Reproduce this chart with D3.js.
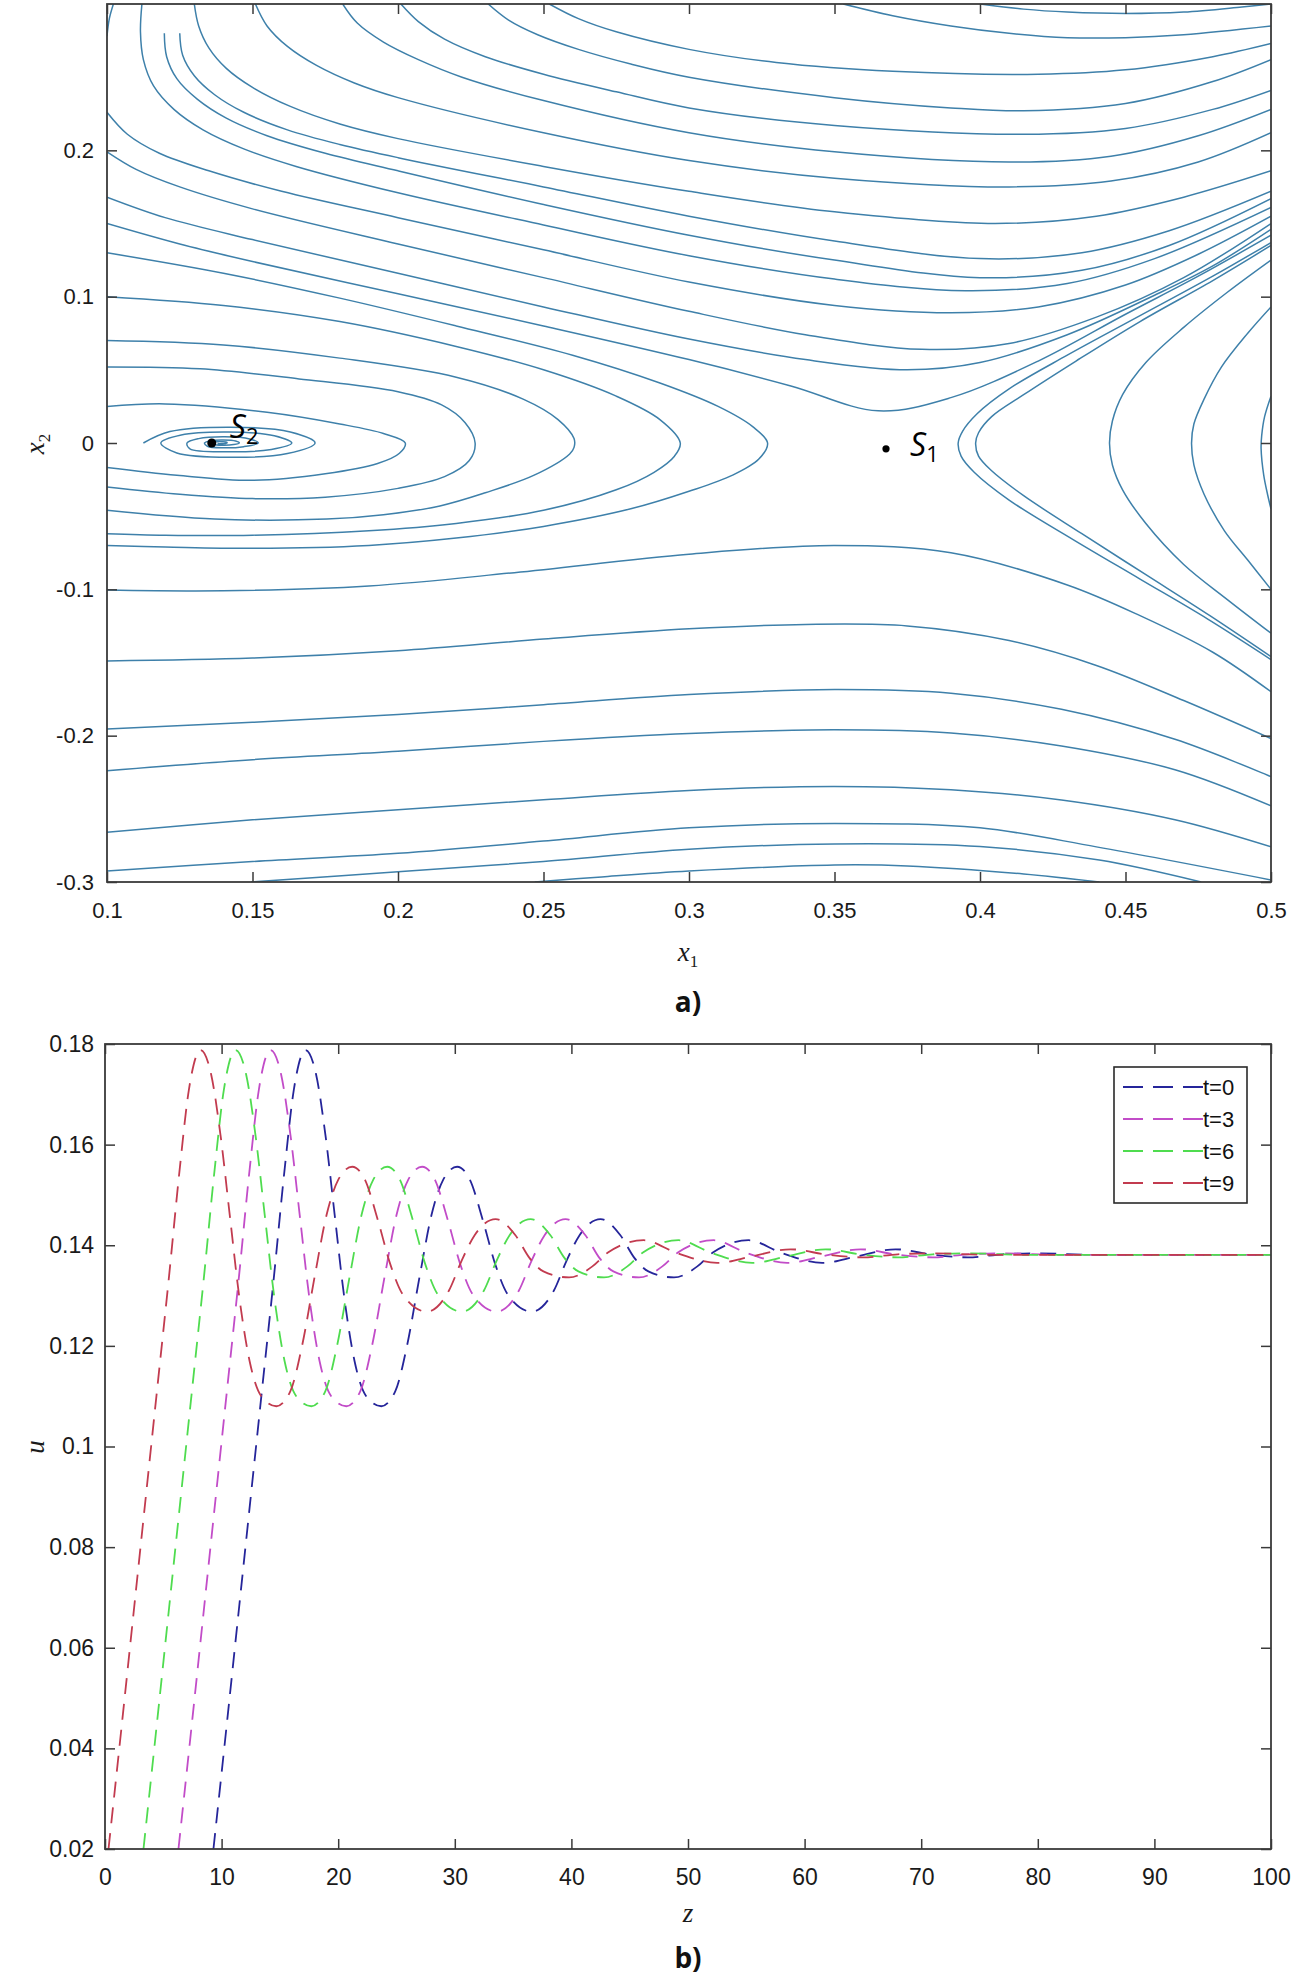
<!DOCTYPE html>
<html>
<head>
<meta charset="utf-8">
<script src="https://cdn.jsdelivr.net/npm/d3@7/dist/d3.min.js"></script>
<style>
  body { margin: 0; background: #fff; }
  svg { display: block; }
  .tick text { font-family: "Liberation Sans", Arial, sans-serif; fill: #1a1a1a; }
</style>
</head>
<body>
<div id="chart"></div>
<script>
// ---- panel a) phase portrait ----
const x1Ticks = [0.1, 0.15, 0.2, 0.25, 0.3, 0.35, 0.4, 0.45, 0.5];
const x2Ticks = [-0.3, -0.2, -0.1, 0, 0.1, 0.2];

// trajectories passing above the saddle (x1, x2)
const upperStreams = [
  [[0.100, 0.278], [0.1008, 0.290], [0.1022, 0.300]],
  [[0.400, 0.300], [0.415, 0.2965], [0.430, 0.2945], [0.450, 0.2935], [0.470, 0.2945], [0.490, 0.298], [0.500, 0.300]],
  [[0.353, 0.300], [0.370, 0.292], [0.390, 0.285], [0.410, 0.280], [0.430, 0.277], [0.450, 0.277], [0.470, 0.279], [0.500, 0.285]],
  [[0.252, 0.300], [0.262, 0.290], [0.275, 0.281], [0.300, 0.269], [0.330, 0.260], [0.370, 0.254], [0.420, 0.252], [0.450, 0.255], [0.480, 0.264], [0.500, 0.273]],
  [[0.231, 0.300], [0.238, 0.289], [0.248, 0.279], [0.262, 0.269], [0.280, 0.259], [0.300, 0.250], [0.350, 0.236], [0.390, 0.229], [0.415, 0.227], [0.450, 0.232], [0.480, 0.247], [0.500, 0.262]],
  [[0.201, 0.300], [0.207, 0.288], [0.216, 0.276], [0.230, 0.264], [0.250, 0.252], [0.275, 0.240], [0.300, 0.229], [0.350, 0.217], [0.415, 0.211], [0.450, 0.215], [0.480, 0.228], [0.500, 0.241]],
  [[0.181, 0.300], [0.186, 0.287], [0.195, 0.274], [0.207, 0.262], [0.222, 0.250], [0.250, 0.234], [0.300, 0.212], [0.350, 0.199], [0.410, 0.192], [0.445, 0.196], [0.475, 0.210], [0.500, 0.228]],
  [[0.151, 0.300], [0.155, 0.285], [0.162, 0.271], [0.172, 0.258], [0.185, 0.246], [0.200, 0.236], [0.250, 0.212], [0.300, 0.193], [0.350, 0.181], [0.410, 0.175], [0.445, 0.179], [0.475, 0.192], [0.500, 0.212]],
  [[0.130, 0.300], [0.1315, 0.285], [0.135, 0.270], [0.141, 0.256], [0.150, 0.243], [0.163, 0.230], [0.180, 0.218], [0.200, 0.208], [0.250, 0.189], [0.300, 0.172], [0.350, 0.158], [0.405, 0.150], [0.440, 0.155], [0.470, 0.168], [0.500, 0.186]],
  [[0.125, 0.280], [0.126, 0.265], [0.130, 0.251], [0.137, 0.238], [0.147, 0.226], [0.162, 0.214], [0.180, 0.204], [0.200, 0.195], [0.250, 0.175], [0.300, 0.155], [0.350, 0.138], [0.400, 0.126], [0.435, 0.130], [0.465, 0.145], [0.500, 0.172]],
  [[0.1197, 0.280], [0.1205, 0.264], [0.124, 0.249], [0.131, 0.235], [0.141, 0.222], [0.155, 0.210], [0.175, 0.198], [0.200, 0.186], [0.250, 0.163], [0.300, 0.142], [0.350, 0.125], [0.400, 0.113], [0.435, 0.118], [0.465, 0.135], [0.500, 0.167]],
  [[0.112, 0.300], [0.1115, 0.281], [0.1125, 0.262], [0.116, 0.244], [0.123, 0.228], [0.133, 0.214], [0.147, 0.201], [0.165, 0.189], [0.200, 0.171], [0.250, 0.149], [0.300, 0.128], [0.350, 0.112], [0.395, 0.104], [0.430, 0.109], [0.460, 0.126], [0.500, 0.161]],
  [[0.100, 0.226], [0.107, 0.211], [0.118, 0.198], [0.135, 0.186], [0.160, 0.172], [0.200, 0.154], [0.250, 0.132], [0.300, 0.110], [0.350, 0.094], [0.390, 0.089], [0.420, 0.093], [0.450, 0.108], [0.475, 0.129], [0.500, 0.155]],
  [[0.100, 0.199], [0.110, 0.187], [0.125, 0.175], [0.150, 0.160], [0.200, 0.136], [0.250, 0.113], [0.300, 0.090], [0.340, 0.074], [0.380, 0.064], [0.410, 0.068], [0.440, 0.086], [0.470, 0.113], [0.500, 0.150]],
  [[0.100, 0.168], [0.120, 0.154], [0.150, 0.139], [0.200, 0.116], [0.250, 0.093], [0.300, 0.071], [0.340, 0.057], [0.375, 0.050], [0.400, 0.055], [0.430, 0.074], [0.460, 0.101], [0.480, 0.121], [0.500, 0.146]],
  [[0.100, 0.150], [0.125, 0.136], [0.150, 0.124], [0.200, 0.102], [0.250, 0.080], [0.300, 0.057], [0.335, 0.039], [0.365, 0.022], [0.390, 0.031], [0.420, 0.056], [0.450, 0.088], [0.475, 0.114], [0.500, 0.142]]
];

// C-shaped trajectories around S2 (enter left, turn, leave left)
const loopStreams = [
  [[0.100, 0.025], [0.120, 0.0267], [0.155, 0.021], [0.180, 0.013], [0.195, 0.0065], [0.2025, 0.000], [0.2005, -0.007], [0.193, -0.014], [0.175, -0.021], [0.150, -0.0255], [0.124, -0.022], [0.100, -0.0167]],
  [[0.100, 0.052], [0.132, 0.0507], [0.166, 0.0438], [0.200, 0.035], [0.215, 0.026], [0.223, 0.014], [0.2265, 0.000], [0.2245, -0.012], [0.216, -0.023], [0.200, -0.031], [0.175, -0.037], [0.150, -0.038], [0.125, -0.035], [0.100, -0.030]],
  [[0.100, 0.070], [0.140, 0.067], [0.180, 0.058], [0.220, 0.045], [0.243, 0.030], [0.255, 0.016], [0.2605, 0.003], [0.2605, -0.003], [0.259, -0.0075], [0.2468, -0.022], [0.230, -0.034], [0.2144, -0.043], [0.195, -0.049], [0.1755, -0.052], [0.137, -0.052], [0.100, -0.046]],
  [[0.100, 0.100], [0.140, 0.094], [0.180, 0.083], [0.220, 0.066], [0.250, 0.050], [0.275, 0.032], [0.290, 0.016], [0.297, 0.000], [0.295, -0.009], [0.288, -0.020], [0.275, -0.032], [0.250, -0.046], [0.220, -0.055], [0.190, -0.060], [0.150, -0.063], [0.120, -0.063], [0.100, -0.062]],
  [[0.100, 0.130], [0.140, 0.116], [0.180, 0.099], [0.220, 0.080], [0.260, 0.060], [0.290, 0.041], [0.310, 0.025], [0.322, 0.011], [0.327, 0.000], [0.324, -0.011], [0.315, -0.022], [0.300, -0.033], [0.280, -0.045], [0.250, -0.057], [0.220, -0.065], [0.190, -0.070], [0.150, -0.072], [0.120, -0.071], [0.100, -0.070]]
];

// spiral into the focus S2
const spiralStream = [
  [0.1125, 0.000], [0.1216, 0.0078], [0.1425, 0.0108], [0.163, 0.0075], [0.1715, 0.000], [0.162, -0.0072], [0.142, -0.0098], [0.124, -0.0068],
  [0.1185, 0.000], [0.1255, 0.0055], [0.1418, 0.0075], [0.1575, 0.0050], [0.1635, 0.000], [0.1565, -0.0044], [0.1415, -0.0060], [0.1285, -0.0040],
  [0.1275, 0.000], [0.1315, 0.0030], [0.1405, 0.0042], [0.149, 0.0028], [0.152, 0.000], [0.147, -0.0025], [0.1400, -0.0033], [0.1345, -0.0022],
  [0.1335, 0.000], [0.1355, 0.0016], [0.1400, 0.0021], [0.1442, 0.0014], [0.1455, 0.000], [0.1435, -0.0011], [0.1398, -0.0015], [0.1368, -0.0010],
  [0.1362, 0.000], [0.1375, 0.0008], [0.1395, 0.0009], [0.1412, 0.0005], [0.1412, 0.000], [0.1395, -0.0005], [0.138, -0.0003]
];

// trajectories to the right of the saddle
const rightStreams = [
  [[0.500, 0.137], [0.480, 0.114], [0.455, 0.087], [0.430, 0.060], [0.410, 0.037], [0.399, 0.020], [0.394, 0.008], [0.3925, 0.000], [0.3935, -0.009], [0.398, -0.020], [0.410, -0.039], [0.432, -0.066], [0.455, -0.093], [0.478, -0.120], [0.500, -0.148]],
  [[0.500, 0.135], [0.480, 0.111], [0.455, 0.083], [0.433, 0.056], [0.415, 0.033], [0.404, 0.018], [0.3995, 0.007], [0.3985, 0.000], [0.3995, -0.009], [0.404, -0.019], [0.415, -0.036], [0.435, -0.062], [0.457, -0.090], [0.479, -0.118], [0.500, -0.146]],
  [[0.500, 0.125], [0.485, 0.103], [0.470, 0.079], [0.457, 0.055], [0.449, 0.033], [0.4455, 0.015], [0.4445, 0.000], [0.4455, -0.015], [0.449, -0.032], [0.457, -0.055], [0.470, -0.083], [0.485, -0.107], [0.500, -0.130]],
  [[0.500, 0.093], [0.492, 0.075], [0.483, 0.052], [0.477, 0.030], [0.4735, 0.013], [0.4727, 0.000], [0.4735, -0.015], [0.477, -0.035], [0.484, -0.060], [0.492, -0.080], [0.500, -0.100]],
  [[0.500, 0.032], [0.4978, 0.018], [0.4968, 0.005], [0.4966, -0.004], [0.4975, -0.022], [0.4988, -0.035], [0.500, -0.045]]
];

// trajectories passing below the saddle
const lowerStreams = [
  [[0.100, -0.1005], [0.140, -0.101], [0.190, -0.0977], [0.240, -0.0886], [0.300, -0.076], [0.350, -0.070], [0.390, -0.075], [0.430, -0.097], [0.455, -0.118], [0.480, -0.143], [0.500, -0.170]],
  [[0.100, -0.149], [0.150, -0.147], [0.200, -0.142], [0.250, -0.134], [0.300, -0.127], [0.340, -0.124], [0.375, -0.125], [0.410, -0.135], [0.440, -0.152], [0.470, -0.176], [0.500, -0.202]],
  [[0.100, -0.1954], [0.150, -0.1909], [0.200, -0.1856], [0.250, -0.1788], [0.300, -0.1719], [0.350, -0.1685], [0.390, -0.171], [0.428, -0.182], [0.467, -0.2025], [0.500, -0.228]],
  [[0.100, -0.224], [0.150, -0.2164], [0.200, -0.2107], [0.250, -0.2039], [0.300, -0.1986], [0.350, -0.196], [0.390, -0.1982], [0.428, -0.207], [0.467, -0.2233], [0.500, -0.248]],
  [[0.100, -0.266], [0.150, -0.2575], [0.200, -0.2507], [0.250, -0.2438], [0.300, -0.2374], [0.350, -0.2347], [0.390, -0.237], [0.428, -0.244], [0.467, -0.2575], [0.500, -0.276]],
  [[0.100, -0.2925], [0.150, -0.286], [0.200, -0.2804], [0.250, -0.272], [0.300, -0.263], [0.350, -0.260], [0.400, -0.263], [0.440, -0.276], [0.500, -0.2986]],
  [[0.1495, -0.300], [0.200, -0.293], [0.250, -0.286], [0.300, -0.2776], [0.350, -0.274], [0.400, -0.2758], [0.441, -0.285], [0.476, -0.300]],
  [[0.247, -0.300], [0.270, -0.2965], [0.300, -0.2925], [0.350, -0.2884], [0.375, -0.289], [0.415, -0.2945], [0.441, -0.300]]
];

const equilibria = [
  { name: 'S', sub: '1', x1: 0.3677, x2: -0.004, r: 3.6, dx: 24, dy: 7 },
  { name: 'S', sub: '2', x1: 0.136, x2: 0.000, r: 4.5, dx: 18, dy: -5 }
];

// ---- panel b) travelling waves ----
const zTicks = [0, 10, 20, 30, 40, 50, 60, 70, 80, 90, 100];
const uTicks = [0.02, 0.04, 0.06, 0.08, 0.1, 0.12, 0.14, 0.16, 0.18];
const seriesNames = ['t=0', 't=3', 't=6', 't=9'];
const seriesColors = ['#25259a', '#c24cc8', '#4fdc4f', '#c23b4f'];

const waveT0 = [[9.3, 0.020], [10.5, 0.046], [11.5, 0.068], [12.5, 0.090], [13.5, 0.112], [14.5, 0.134], [15.4, 0.155], [16.2, 0.171], [17.2, 0.1788], [18.1, 0.174], [18.9, 0.162], [19.7, 0.146], [20.5, 0.130], [21.4, 0.117], [22.4, 0.110], [23.7, 0.108], [24.9, 0.111], [25.9, 0.120], [27.0, 0.134], [28.0, 0.146], [29.0, 0.153], [30.2, 0.1556], [31.3, 0.153], [32.4, 0.145], [33.5, 0.136], [34.6, 0.130], [36.6, 0.1268], [38.5, 0.131], [39.6, 0.137], [40.7, 0.142], [42.5, 0.1452], [44.2, 0.142], [45.4, 0.1375], [46.6, 0.1348], [48.8, 0.1336], [50.8, 0.1358], [52.1, 0.1385], [55.2, 0.1410], [58.0, 0.1385], [61.5, 0.1365], [64.5, 0.1378], [67.8, 0.1392], [71.0, 0.1381], [74.0, 0.1376], [77.0, 0.1382], [80.0, 0.1384], [85.0, 0.1381], [100, 0.1381]];
const waveT3 = [[6.3, 0.020], [7.5, 0.046], [8.5, 0.068], [9.5, 0.090], [10.5, 0.112], [11.5, 0.134], [12.4, 0.155], [13.2, 0.171], [14.2, 0.1788], [15.1, 0.174], [15.9, 0.162], [16.7, 0.146], [17.5, 0.130], [18.4, 0.117], [19.4, 0.110], [20.7, 0.108], [21.9, 0.111], [22.9, 0.120], [24.0, 0.134], [25.0, 0.146], [26.0, 0.153], [27.2, 0.1556], [28.3, 0.153], [29.4, 0.145], [30.5, 0.136], [31.6, 0.130], [33.6, 0.1268], [35.5, 0.131], [36.6, 0.137], [37.7, 0.142], [39.5, 0.1452], [41.2, 0.142], [42.4, 0.1375], [43.6, 0.1348], [45.8, 0.1336], [47.8, 0.1358], [49.1, 0.1385], [52.2, 0.1410], [55.0, 0.1385], [58.5, 0.1365], [61.5, 0.1378], [64.8, 0.1392], [68.0, 0.1381], [71.0, 0.1376], [74.0, 0.1382], [77.0, 0.1384], [82.0, 0.1381], [100, 0.1381]];
const waveT6 = [[3.3, 0.020], [4.5, 0.046], [5.5, 0.068], [6.5, 0.090], [7.5, 0.112], [8.5, 0.134], [9.4, 0.155], [10.2, 0.171], [11.2, 0.1788], [12.1, 0.174], [12.9, 0.162], [13.7, 0.146], [14.5, 0.130], [15.4, 0.117], [16.4, 0.110], [17.7, 0.108], [18.9, 0.111], [19.9, 0.120], [21.0, 0.134], [22.0, 0.146], [23.0, 0.153], [24.2, 0.1556], [25.3, 0.153], [26.4, 0.145], [27.5, 0.136], [28.6, 0.130], [30.6, 0.1268], [32.5, 0.131], [33.6, 0.137], [34.7, 0.142], [36.5, 0.1452], [38.2, 0.142], [39.4, 0.1375], [40.6, 0.1348], [42.8, 0.1336], [44.8, 0.1358], [46.1, 0.1385], [49.2, 0.1410], [52.0, 0.1385], [55.5, 0.1365], [58.5, 0.1378], [61.8, 0.1392], [65.0, 0.1381], [68.0, 0.1376], [71.0, 0.1382], [74.0, 0.1384], [79.0, 0.1381], [100, 0.1381]];
const waveT9 = [[0.3, 0.020], [1.5, 0.046], [2.5, 0.068], [3.5, 0.090], [4.5, 0.112], [5.5, 0.134], [6.4, 0.155], [7.2, 0.171], [8.2, 0.1788], [9.1, 0.174], [9.9, 0.162], [10.7, 0.146], [11.5, 0.130], [12.4, 0.117], [13.4, 0.110], [14.7, 0.108], [15.9, 0.111], [16.9, 0.120], [18.0, 0.134], [19.0, 0.146], [20.0, 0.153], [21.2, 0.1556], [22.3, 0.153], [23.4, 0.145], [24.5, 0.136], [25.6, 0.130], [27.6, 0.1268], [29.5, 0.131], [30.6, 0.137], [31.7, 0.142], [33.5, 0.1452], [35.2, 0.142], [36.4, 0.1375], [37.6, 0.1348], [39.8, 0.1336], [41.8, 0.1358], [43.1, 0.1385], [46.2, 0.1410], [49.0, 0.1385], [52.5, 0.1365], [55.5, 0.1378], [58.8, 0.1392], [62.0, 0.1381], [65.0, 0.1376], [68.0, 0.1382], [71.0, 0.1384], [76.0, 0.1381], [100, 0.1381]];

// ---------------------------------------------------------------
const svg = d3.select('#chart').append('svg')
    .attr('width', 1292)
    .attr('height', 1976);

const phaseBox = { left: 107, right: 1271, top: 4, bottom: 882 };
const waveBox = { left: 105, right: 1271, top: 1044, bottom: 1849 };

const x1 = d3.scaleLinear().domain([0.1, 0.5]).range([phaseBox.left, phaseBox.right]);
const x2 = d3.scaleLinear().domain([-0.3, 0.3]).range([phaseBox.bottom, phaseBox.top]);
const zs = d3.scaleLinear().domain([0, 100]).range([waveBox.left, waveBox.right]);
const us = d3.scaleLinear().domain([0.02, 0.18]).range([waveBox.bottom, waveBox.top]);

const fmt = d => d3.format('~g')(d).replace('\u2212', '-');

const defs = svg.append('defs');
function addClip(id, b) {
    defs.append('clipPath').attr('id', id)
        .append('rect')
        .attr('x', b.left).attr('y', b.top)
        .attr('width', b.right - b.left).attr('height', b.bottom - b.top);
}
addClip('clipPhase', phaseBox);
addClip('clipWave', waveBox);

// inward ticks on all four sides + box, like matlab
function drawFrame(xScale, yScale, xTicks, yTicks, b, fontSize, padX, padY) {
    const g = svg.append('g').attr('class', 'frame');
    g.append('g').attr('transform', `translate(0,${b.bottom})`)
        .call(d3.axisBottom(xScale).tickValues(xTicks).tickFormat(fmt)
            .tickSizeInner(-10).tickSizeOuter(0).tickPadding(padX));
    g.append('g').attr('transform', `translate(0,${b.top})`)
        .call(d3.axisTop(xScale).tickValues(xTicks).tickFormat('')
            .tickSizeInner(-10).tickSizeOuter(0));
    g.append('g').attr('transform', `translate(${b.left},0)`)
        .call(d3.axisLeft(yScale).tickValues(yTicks).tickFormat(fmt)
            .tickSizeInner(-10).tickSizeOuter(0).tickPadding(padY));
    g.append('g').attr('transform', `translate(${b.right},0)`)
        .call(d3.axisRight(yScale).tickValues(yTicks).tickFormat('')
            .tickSizeInner(-10).tickSizeOuter(0));
    g.selectAll('.domain').remove();
    g.selectAll('.tick line').attr('stroke', '#3a3a3a').attr('stroke-width', 1.5);
    g.selectAll('.tick text').style('font-size', fontSize + 'px');
    g.append('rect')
        .attr('x', b.left).attr('y', b.top)
        .attr('width', b.right - b.left).attr('height', b.bottom - b.top)
        .attr('fill', 'none').attr('stroke', '#3a3a3a').attr('stroke-width', 1.8);
}

// ---- phase portrait ----
const streamLine = d3.line()
    .x(d => x1(d[0]))
    .y(d => x2(d[1]))
    .curve(d3.curveCatmullRom.alpha(0.5));

const streamG = svg.append('g').attr('clip-path', 'url(#clipPhase)');
const allStreams = upperStreams.concat(loopStreams, [spiralStream], rightStreams, lowerStreams);
streamG.selectAll('path.stream')
    .data(allStreams)
    .enter()
    .append('path')
    .attr('class', 'stream')
    .attr('d', streamLine)
    .attr('fill', 'none')
    .attr('stroke', '#3e80aa')
    .attr('stroke-width', 1.5);

const eqG = svg.append('g');
eqG.selectAll('circle')
    .data(equilibria)
    .enter()
    .append('circle')
    .attr('cx', d => x1(d.x1))
    .attr('cy', d => x2(d.x2))
    .attr('r', d => d.r)
    .attr('fill', '#000');

const eqLabel = eqG.selectAll('text')
    .data(equilibria)
    .enter()
    .append('text')
    .attr('x', d => x1(d.x1) + d.dx)
    .attr('y', d => x2(d.x2) + d.dy)
    .style('font-family', '"Open Sans", "Noto Sans", sans-serif')
    .style('fill', '#000');
eqLabel.append('tspan').text(d => d.name).style('font-style', 'italic').style('font-size', '32px');
eqLabel.append('tspan').text(d => d.sub).attr('dy', 6).style('font-size', '22px');

drawFrame(x1, x2, x1Ticks, x2Ticks, phaseBox, 22, 20, 13);

// axis titles
function mathLabel(x, y, main, sub, rotate) {
    const t = svg.append('text')
        .attr('transform', `translate(${x},${y})` + (rotate ? ' rotate(-90)' : ''))
        .attr('text-anchor', 'middle')
        .style('font-family', '"Liberation Serif", "Times New Roman", serif')
        .style('fill', '#1a1a1a');
    t.append('tspan').text(main).style('font-style', 'italic').style('font-size', '27px');
    if (sub) t.append('tspan').text(sub).attr('dy', 6).style('font-size', '17px');
    return t;
}
mathLabel(688, 961, 'x', '1', false);
mathLabel(44, 444, 'x', '2', true);

function panelLabel(x, y, txt) {
    svg.append('text')
        .attr('x', x).attr('y', y)
        .attr('text-anchor', 'middle')
        .style('font-family', '"Open Sans", "Liberation Sans", sans-serif')
        .style('font-weight', 'bold')
        .style('font-size', '28px')
        .style('fill', '#111')
        .text(txt);
}
panelLabel(688, 1012, 'a)');

// ---- travelling wave profiles ----
const waveLine = d3.line()
    .x(d => zs(d[0]))
    .y(d => us(d[1]))
    .curve(d3.curveMonotoneX);

const waves = [waveT0, waveT3, waveT6, waveT9];
const waveG = svg.append('g').attr('clip-path', 'url(#clipWave)');
waveG.selectAll('path.wave')
    .data(waves)
    .enter()
    .append('path')
    .attr('class', 'wave')
    .attr('d', waveLine)
    .attr('fill', 'none')
    .attr('stroke', (d, i) => seriesColors[i])
    .attr('stroke-width', 1.8)
    .attr('stroke-dasharray', '16,10');

drawFrame(zs, us, zTicks, uTicks, waveBox, 23, 20, 11);

mathLabel(688, 1922, 'z', null, false);
mathLabel(44, 1447, 'u', null, true);
panelLabel(688, 1968, 'b)');

// legend
const legend = svg.append('g').attr('transform', 'translate(1114,1067)');
legend.append('rect')
    .attr('width', 133).attr('height', 136)
    .attr('fill', '#fff').attr('stroke', '#2a2a2a').attr('stroke-width', 1.6);
const item = legend.selectAll('g.item')
    .data(seriesNames)
    .enter()
    .append('g')
    .attr('class', 'item')
    .attr('transform', (d, i) => `translate(0,${20 + i * 32})`);
item.append('line')
    .attr('x1', 9).attr('x2', 89)
    .attr('stroke', (d, i) => seriesColors[i])
    .attr('stroke-width', 1.8)
    .attr('stroke-dasharray', '20,10');
item.append('text')
    .attr('x', 89).attr('y', 8)
    .style('font-family', '"Liberation Sans", Arial, sans-serif')
    .style('font-size', '22px')
    .style('fill', '#111')
    .text(d => d);
</script>
</body>
</html>
